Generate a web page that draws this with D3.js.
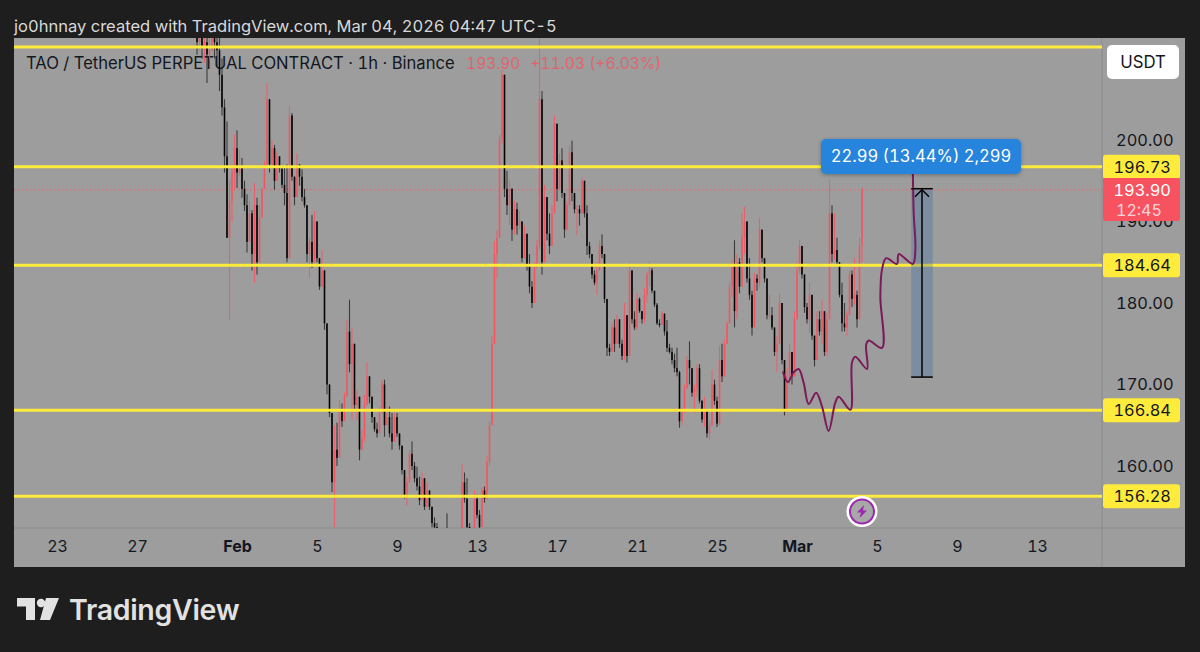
<!DOCTYPE html>
<html><head><meta charset="utf-8">
<script src="https://cdn.jsdelivr.net/npm/d3@7/dist/d3.min.js"></script>
<style>html,body{margin:0;padding:0;background:#1e1e1e;overflow:hidden}svg{display:block}text{font-family:Inter,"Noto Sans",sans-serif;font-variant-numeric:tabular-nums}</style>
</head><body><svg id="c" width="1200" height="652"></svg>
<script>
// ---- data ----
const candleStart = Date.UTC(2026,0,30,0);
const candleStepHours = 3;
const firstOpen = 213;
const highs = [
214,214,214,214,214,214,214,214,214,214,
210,205,202.3,195,197,200.7,201.2,198.8,197.8,195,
193.3,192.5,191.4,194.7,192.9,192,194.1,197.4,207,205,
199.9,199.4,198.6,198,196.5,196.6,197,204.2,203.3,195.5,
198.4,197,196.4,194,192,188,190.8,191.3,190,185.5,
186.5,184,177.5,170,166.5,165,165.3,168.1,167.7,169,
178,180.4,177,175,169.3,168.5,164.5,168.7,172.7,171,
168.5,166,165.3,167.2,170.6,170.6,167.3,167.3,166.5,166.5,
166.5,164,162.5,159.5,158.7,162,163,160.5,159.9,158.7,
159.2,158.5,158,157,155,153.7,153,152,151.5,151,
154.2,150.5,150,150.5,150,152,160.2,159.2,158.5,153,
152,157,156.5,154.6,157.4,157.5,161.2,165.5,176,187.6,
188.9,200.6,208.6,208,196.2,195,194.1,192.5,192.3,191.3,
190,189.5,188.5,186,182.7,185,187.7,214,206,194.5,
193,191,192,203,202,198.4,199,193.5,192.5,199.4,
199.9,193.5,192,192,195.4,195,192,187.5,186,184,
185,187.7,188.4,186,180.5,175,177.5,178,178.5,178,
175.5,180,178.5,185,184,179,181.2,180.7,179,181.8,
183.8,185.1,184.3,181.5,180,178,179,178.7,177.9,175,
174.5,173.8,174.5,171.7,167.2,170,173.5,175.3,172,170,
172.5,172.5,168.1,168.5,167,165.5,171.8,170.6,168.5,174.8,
175,175.5,177.7,182.5,185.3,187.7,186,185.5,191,191.8,
190,185.5,181.5,183.7,183.5,190.5,189,185.5,183,181,
179.5,177,176,181.2,180,173,172,175,174,179,
185,187.8,187,183.5,180,182.5,181,176,179,179,
180.4,177,178.8,195.1,192,191,188,185,182.5,180,
179,184,184,185.5,181.5,188,194.2];
const lows = [
210.5,211,210,209.5,207,210,211,210,209,206,
203,196,188,178,190,193.9,194.1,195.6,192.9,191.3,
186.2,187.5,184,182.5,183.5,185,190.5,194,197,196,
196.6,193.9,195,196,194.1,192,185,185.5,195,192,
193,194.4,192.5,191.7,185,183,184.3,185,185,181.6,
182,176.7,168.8,166,156.8,152.5,160,161,164.8,165.5,
168.5,171.5,165.7,166.7,165.6,160.7,162,163,167.5,167.7,
165.3,164.2,163.5,164,166.5,163.6,165,163.5,162,163,
163.6,162,159,156,155.2,158,159.5,158,157,155.2,
155.8,154.6,155,154.6,152.5,152,151,150,149.5,149,
149,148.5,148,148.5,148,149,150,155.5,152,150,
150,151.5,153.6,151.5,152.5,155.5,156,160,165,175,
183,188,199.5,193,190.8,189.6,187.6,188.4,188.4,189,
185,185.5,184,181.2,179.4,180,184.3,186.5,183.5,185,
187.7,186,187,191,192.5,193.9,192.9,188,189,192,
192.5,191,188.3,189.5,191,190.5,185.9,185.5,183,182.2,
181,184,185.5,180,173.5,173.5,174,174,175,174.5,
173,173,172.7,173.5,177.5,176.7,176.7,178.8,177.5,177.5,
180,182,181.2,179.5,177.3,177,177.3,176,174,173.8,
172.5,171.5,171,164.7,165,166.5,169.5,170,168.5,166.5,
168.5,167.7,165.3,164.8,163.5,163.2,165,167.5,164.8,165,
170.3,171,175,177.5,180.7,177,178,181.2,182,186,
182.5,180.4,176,177,181.5,182,185,182.5,178,178,
176.7,173.5,171.5,175,172.5,166.2,166.5,170,170,171,
178,183.6,183,178.8,177.5,176.3,175.5,172.2,173,176,
175,173.5,173.5,178,185,185.3,184.5,180.7,176.5,176.5,
176,178.5,179.5,179.8,177,178,185];
const closes = [
212,213,211.5,212,210.5,211,212.5,212,211,208,
204,198,188,192.5,196,199,196,196.5,194,192,
187.5,191,186,192,185,190.5,194,197,205,197,
199,195,198,196.5,194.5,193.5,185.5,203,195.5,193,
197,195.5,193,192,186,187.5,185,190,185.5,182,
184,177.5,170,166.5,158,162,161,167,165.5,168.5,
176.5,172.5,175,167.5,168.5,162,163.5,167.5,171,168.5,
166,164.5,164,166.5,170,165,166,164,163,166,
164,162.5,159.5,156.5,158,161.5,160,158.5,157.5,155.8,
158.5,155,157,155,153,152.5,151.5,151,150,150.5,
149.5,149,149.5,149,150,151.5,158,156,152.5,151,
151.5,156,154,152.5,157,156,160.5,165,175,186,
188,200,208,194,192,194,189,191.5,189.5,190,
185.5,188.5,184.5,182,180,184.5,187,205,185,193,
188.5,187,191,202,194,197.5,193.5,189,192,198.5,
193.5,191.5,191.5,191,195,191,187,186,183.5,182.5,
184,187,186,180.5,174.5,174,177,175,178,175,
173.5,178.5,173.5,184,178,177,180.5,179,178,181,
183.5,184,181.5,179.8,177.5,177.3,178.7,176.5,174.5,174,
173,172,171.5,165.5,166.5,169.5,173,172,169,169.5,
172,168,165.7,167,164,165,170,168,165.2,173,
171,175,177.5,182,184.5,179,185,182,188,190,
183,181,177,183,182.5,189,185.5,183,178.5,178.5,
177,174,175,180,173,167,171,174,171,178,
184,187,183.5,179.5,178,181,176,173,178,176.5,
179,174,178,191,186,186.5,185,181,177.5,177,
178.5,183.5,180.5,181,178,187,193.9];
const levels = [211.41,196.73,184.64,166.84,156.28];
const levelLabels = ["196.73","184.64","166.84","156.28"];
const priceTicks = [200,190,180,170,160];
const lastPrice = 193.90;
const timeTickDates = [[0,23],[0,27],[1,1],[1,5],[1,9],[1,13],[1,17],[1,21],[1,25],[2,1],[2,5],[2,9],[2,13]];
const timeTickLabels = ["23","27","Feb","5","9","13","17","21","25","Mar","5","9","13"];
const pathHours = [703,709,716,722,728,734,743,750,758,766,770,784,786,790,804,803,806,822,820,822,827,840,842,859,862,860,859];
const pathPrices = [171.6,170.3,171.5,171.9,170.2,167.6,169,167.3,164.3,167.8,168.5,166.9,172.7,173.4,171.9,174.9,175.4,174.5,180.8,184.1,185.5,184.8,186,184.8,186.5,191.1,196];
const rulerHours = [857,870,883];
const rulerPrices = [170.91,193.90];
const rulerText = "22.99 (13.44%) 2,299";
const titleText = "jo0hnnay created with TradingView.com, Mar 04, 2026 04:47 UTC-5";
const legendText = "TAO / TetherUS PERPETUAL CONTRACT · 1h · Binance";
const legendPrice = "193.90";
const legendChange = "+11.03 (+6.03%)";
const countdown = "12:45";

// ---- layout ----
const pane = {l:14,t:38,r:1102,b:528,outerR:1185,outerB:567};
const COL = {bg:"#1e1e1e",pane:"#9d9d9d",sep:"#8b8b8b",ink:"#131722",up:"#f7525f",down:"#000000",yellow:"#ffeb3b",path:"#7b1a58",blue:"#2684dc"};
const x = d3.scaleUtc().domain([Date.UTC(2026,0,23),Date.UTC(2026,2,13)]).range([57,1037]);
const y = d3.scaleLinear().domain([200,160]).range([140,466]);
const hourDate = h => new Date(candleStart + h*3600e3);
const svg = d3.select("#c");

svg.append("rect").attr("width",1200).attr("height",652).attr("fill",COL.bg);
svg.append("rect").attr("x",pane.l).attr("y",pane.t).attr("width",pane.outerR-pane.l).attr("height",pane.outerB-pane.t).attr("fill",COL.pane);
svg.append("line").attr("x1",pane.r).attr("x2",pane.r).attr("y1",pane.t).attr("y2",pane.outerB).attr("stroke",COL.sep);
svg.append("line").attr("x1",pane.l).attr("x2",pane.outerR).attr("y1",pane.b).attr("y2",pane.b).attr("stroke",COL.sep);
svg.append("defs").append("clipPath").attr("id","pc").append("rect").attr("x",pane.l).attr("y",pane.t).attr("width",pane.r-pane.l).attr("height",pane.b-pane.t);
const defs = svg.select("defs");
const fl = defs.append("filter").attr("id","sh").attr("x","-10%").attr("y","-30%").attr("width","120%").attr("height","170%");
fl.append("feDropShadow").attr("dx",0).attr("dy",1).attr("stdDeviation",2).attr("flood-color","#000").attr("flood-opacity",.3);
defs.append("filter").attr("id","soft").attr("x","-2%").attr("y","-2%").attr("width","104%").attr("height","104%")
  .append("feGaussianBlur").attr("stdDeviation",.35);

// header text
svg.append("text").attr("x",14).attr("y",32).attr("fill","#d9d9d9").attr("font-size",16.55).text(titleText);
const lg = svg.append("g").attr("font-size",16.6);
lg.append("text").attr("x",26).attr("y",69).attr("fill",COL.ink).text(legendText);
lg.append("text").attr("x",466).attr("y",69).attr("fill",COL.up).attr("opacity",.8).attr("font-size",15.4).text(legendPrice);
lg.append("text").attr("x",530).attr("y",69).attr("fill",COL.up).attr("opacity",.8).attr("font-size",15.6).text(legendChange);

// plot
const plot = svg.append("g").attr("clip-path","url(#pc)");
plot.append("line").attr("x1",pane.l).attr("x2",pane.r).attr("y1",y(lastPrice)).attr("y2",y(lastPrice)).attr("stroke",COL.up).attr("stroke-opacity",.7).attr("stroke-dasharray","1.5 2.5");

const candles = closes.map((c,i)=>({d:hourDate(i*candleStepHours),o:i?closes[i-1]:firstOpen,c,h:highs[i],l:lows[i]}));
const cg = plot.append("g").attr("filter","url(#soft)");
const isUp = d=>d.c>=d.o;
cg.selectAll("line").data(candles).join("line")
  .attr("x1",d=>x(d.d)).attr("x2",d=>x(d.d)).attr("y1",d=>y(d.h)).attr("y2",d=>y(d.l))
  .attr("stroke",d=>isUp(d)?COL.up:"#1a1a1a").attr("stroke-opacity",d=>isUp(d)?.8:.75).attr("stroke-width",1.1);
cg.selectAll("rect").data(candles).join("rect")
  .attr("x",d=>x(d.d)-.8).attr("width",1.6)
  .attr("y",d=>y(Math.max(d.o,d.c))).attr("height",d=>Math.max(1,Math.abs(y(d.o)-y(d.c))))
  .attr("fill",d=>isUp(d)?COL.up:COL.down).attr("fill-opacity",d=>isUp(d)?.85:.9);

// horizontal levels
plot.selectAll("line.lv").data(levels).join("line").attr("class","lv")
  .attr("x1",pane.l).attr("x2",pane.r).attr("y1",d=>y(d)).attr("y2",d=>y(d))
  .attr("stroke",COL.yellow).attr("stroke-width",3);

// ruler
const rx0=x(hourDate(rulerHours[0])), rxm=x(hourDate(rulerHours[1])), rx1=x(hourDate(rulerHours[2]));
const ry0=y(rulerPrices[0]), ry1=y(rulerPrices[1]);
plot.append("rect").attr("x",rx0).attr("width",rx1-rx0).attr("y",ry1).attr("height",ry0-ry1).attr("fill","#2b66a8").attr("fill-opacity",.28);

// drawn path
const line = d3.line().x((d,i)=>x(hourDate(d))).y((d,i)=>y(pathPrices[i])).curve(d3.curveCatmullRom.alpha(.5));
plot.append("path").attr("d",line(pathHours)).attr("fill","none").attr("stroke",COL.path).attr("stroke-width",2);

const rg = plot.append("g").attr("stroke","#000").attr("stroke-width",1.5).attr("fill","none");
rg.append("line").attr("x1",rxm).attr("x2",rxm).attr("y1",ry1).attr("y2",ry0);
rg.append("line").attr("x1",rx0).attr("x2",rx1).attr("y1",ry1-1).attr("y2",ry1-1);
rg.append("line").attr("x1",rx0).attr("x2",rx1).attr("y1",ry0).attr("y2",ry0);
rg.append("path").attr("d",`M${rxm-7},${ry1+7}L${rxm},${ry1}L${rxm+7},${ry1+7}`);

// ruler label
const bx = rxm-101;
svg.append("rect").attr("x",bx).attr("y",139).attr("width",200).attr("height",35).attr("rx",5).attr("fill",COL.blue).attr("filter","url(#sh)");
svg.append("text").attr("x",bx+100).attr("y",162).attr("text-anchor","middle").attr("fill","#fff").attr("font-size",16.6).text(rulerText);

// price axis
const pa = svg.append("g").attr("transform",`translate(${pane.r},0)`)
  .call(d3.axisRight(y).tickValues(priceTicks).tickFormat(d3.format(".2f")).tickSize(0).tickPadding(14));
pa.select(".domain").remove();
pa.selectAll("text").attr("fill",COL.ink).attr("font-size",16.4).attr("font-family","Inter,sans-serif");

// level labels
levels.slice(1).forEach((v,i)=>{
  svg.append("rect").attr("x",1103).attr("y",y(v)-12).attr("width",77).attr("height",24).attr("rx",3).attr("fill",COL.yellow);
  svg.append("text").attr("x",1171).attr("y",y(v)+6).attr("text-anchor","end").attr("fill",COL.ink).attr("font-size",16.4).text(levelLabels[i]);
});

// last price tag
svg.append("rect").attr("x",1103).attr("y",178).attr("width",77).attr("height",43).attr("fill",COL.up).attr("rx",2);
svg.append("text").attr("x",1171).attr("y",196).attr("text-anchor","end").attr("fill","#fff").attr("font-size",16.4).text(d3.format(".2f")(lastPrice));
svg.append("text").attr("x",1116).attr("y",216).attr("text-anchor","start").attr("fill","#fff").attr("fill-opacity",.75).attr("font-size",16).text(countdown);

// currency button
svg.append("rect").attr("x",1107).attr("y",45).attr("width",72).attr("height",34).attr("rx",5).attr("fill","#fff");
svg.append("text").attr("x",1143).attr("y",68).attr("text-anchor","middle").attr("fill",COL.ink).attr("font-size",16.8).text("USDT");

// time axis
const tickDates = timeTickDates.map(([m,d])=>new Date(Date.UTC(2026,m,d)));
const ta = svg.append("g").attr("transform",`translate(0,${pane.b})`)
  .call(d3.axisBottom(x).tickValues(tickDates).tickFormat((d,i)=>timeTickLabels[i]).tickSize(0).tickPadding(13));
ta.select(".domain").remove();
ta.selectAll("text").attr("fill",COL.ink).attr("font-size",16).attr("font-family","Inter,sans-serif")
  .attr("font-weight",(d,i)=>/[A-Z]/.test(timeTickLabels[i])?700:400);

// lightning badge
const bg = svg.append("g").attr("transform",`translate(${x(candles[candles.length-1].d)},511.5)`);
bg.append("circle").attr("r",15.5).attr("fill","#fff");
bg.append("circle").attr("r",12).attr("fill","#a8a8a8").attr("stroke","#9c27b0").attr("stroke-width",2);
bg.append("path").attr("d","M2,-6.5L-5,1H-1L-2.5,6.5L5,-1H1Z").attr("fill","#9c27b0");

// TradingView logo
const lo = svg.append("g").attr("fill","#e2e2e2");
lo.append("path").attr("d","M17,598H35V620H26V606.5H17Z");
lo.append("circle").attr("cx",41).attr("cy",603).attr("r",4.2);
lo.append("path").attr("d","M46,598H59L50,620H40Z");
lo.append("text").attr("x",69).attr("y",620).attr("font-size",28.5).attr("font-weight",600).attr("letter-spacing",-.3).text("TradingView");
</script></body></html>
